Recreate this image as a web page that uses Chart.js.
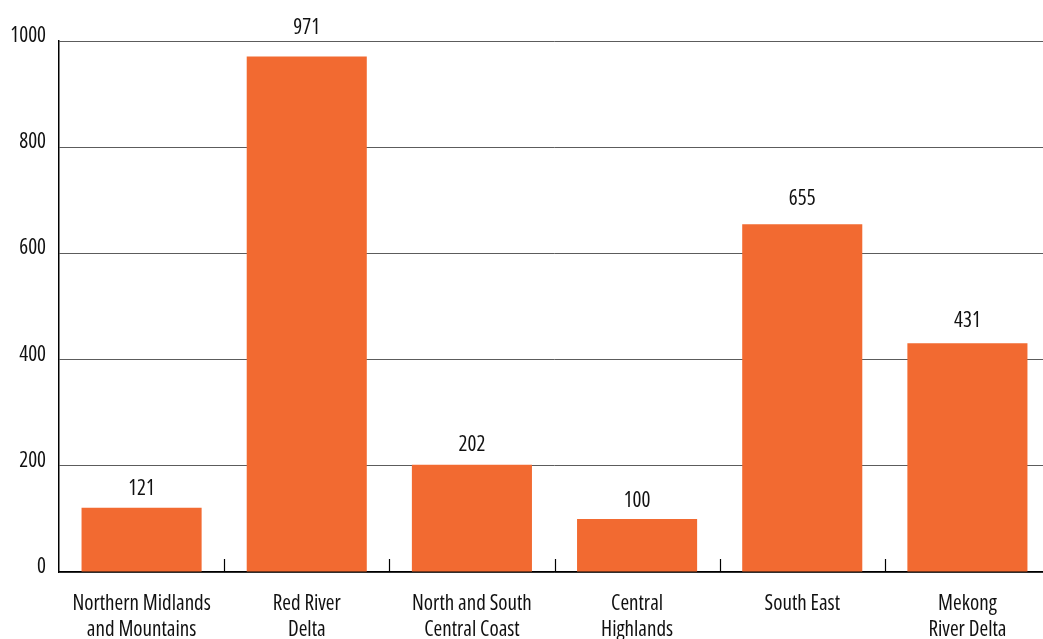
<!DOCTYPE html>
<html>
<head>
<meta charset="utf-8">
<script src="https://cdn.jsdelivr.net/npm/chart.js@4/dist/chart.umd.min.js"></script>
<style>
  html, body { margin: 0; padding: 0; background: #fff; overflow: hidden; }
  #wrap { width: 1050px; height: 639px; }
</style>
</head>
<body>
<div id="wrap"><canvas id="regionChart" width="1050" height="639"></canvas></div>
<script>
const regions = [
  ['Northern Midlands', 'and Mountains'],
  ['Red River', 'Delta'],
  ['North and South', 'Central Coast'],
  ['Central', 'Highlands'],
  ['South East'],
  ['Mekong', 'River Delta']
];
const counts = [121, 971, 202, 100, 655, 431];
const yTicks = [0, 200, 400, 600, 800, 1000];

const FONT = '"Open Sans", "DejaVu Sans Condensed", sans-serif';
const WEIGHT = '400 condensed'; // goes into the font shorthand, narrows the face
const SIZE = 21;
const ORANGE = '#f26a31';

// value labels above the bars + small upward ticks between categories
const barExtras = {
  id: 'barExtras',
  afterDatasetsDraw(chart) {
    const { ctx, scales: { x, y } } = chart;
    const meta = chart.getDatasetMeta(0);
    ctx.save();
    ctx.fillStyle = '#111';
    ctx.font = WEIGHT + ' ' + SIZE + 'px ' + FONT;
    ctx.textAlign = 'center';
    ctx.textBaseline = 'middle';
    meta.data.forEach((bar, i) => {
      const v = counts[i];
      ctx.fillText(String(v), bar.x, y.getPixelForValue(v) - (17 + v * 0.012));
    });

    ctx.strokeStyle = '#000';
    ctx.lineWidth = 1.2;
    const base = y.getPixelForValue(0);
    for (let i = 0; i < counts.length - 1; i++) {
      const px = Math.round((x.getPixelForValue(i) + x.getPixelForValue(i + 1)) / 2) + 0.5;
      ctx.beginPath();
      ctx.moveTo(px, base);
      ctx.lineTo(px, base - 13);
      ctx.stroke();
    }
    ctx.restore();
  }
};

new Chart(document.getElementById('regionChart'), {
  type: 'bar',
  data: {
    labels: regions,
    datasets: [{
      data: counts,
      backgroundColor: ORANGE,
      borderWidth: 0,
      barPercentage: 0.727,
      categoryPercentage: 1
    }]
  },
  options: {
    responsive: false,
    animation: false,
    layout: { padding: { top: 41, right: 0, left: 0, bottom: 0 } },
    plugins: { legend: { display: false }, tooltip: { enabled: false } },
    scales: {
      x: {
        grid: { display: false, drawTicks: false },
        border: { color: '#000', width: 1.5 },
        ticks: {
          color: '#111',
          padding: 19,
          maxRotation: 0,
          autoSkip: false,
          font: { family: FONT, weight: WEIGHT, size: SIZE, lineHeight: 1.24 }
        },
        afterFit(scale) { scale.height = 67; }
      },
      y: {
        min: 0,
        max: 1000,
        afterBuildTicks(scale) { scale.ticks = yTicks.map(v => ({ value: v })); },
        grid: { color: '#5c5c5c', lineWidth: 1, drawTicks: false },
        border: { color: '#000', width: 1.5 },
        ticks: {
          color: '#111',
          padding: 13,
          labelOffset: -5,
          callback: v => String(v),
          font: { family: FONT, weight: WEIGHT, size: SIZE }
        },
        afterFit(scale) { scale.width = 59; }
      }
    }
  },
  plugins: [barExtras]
});
</script>
</body>
</html>
